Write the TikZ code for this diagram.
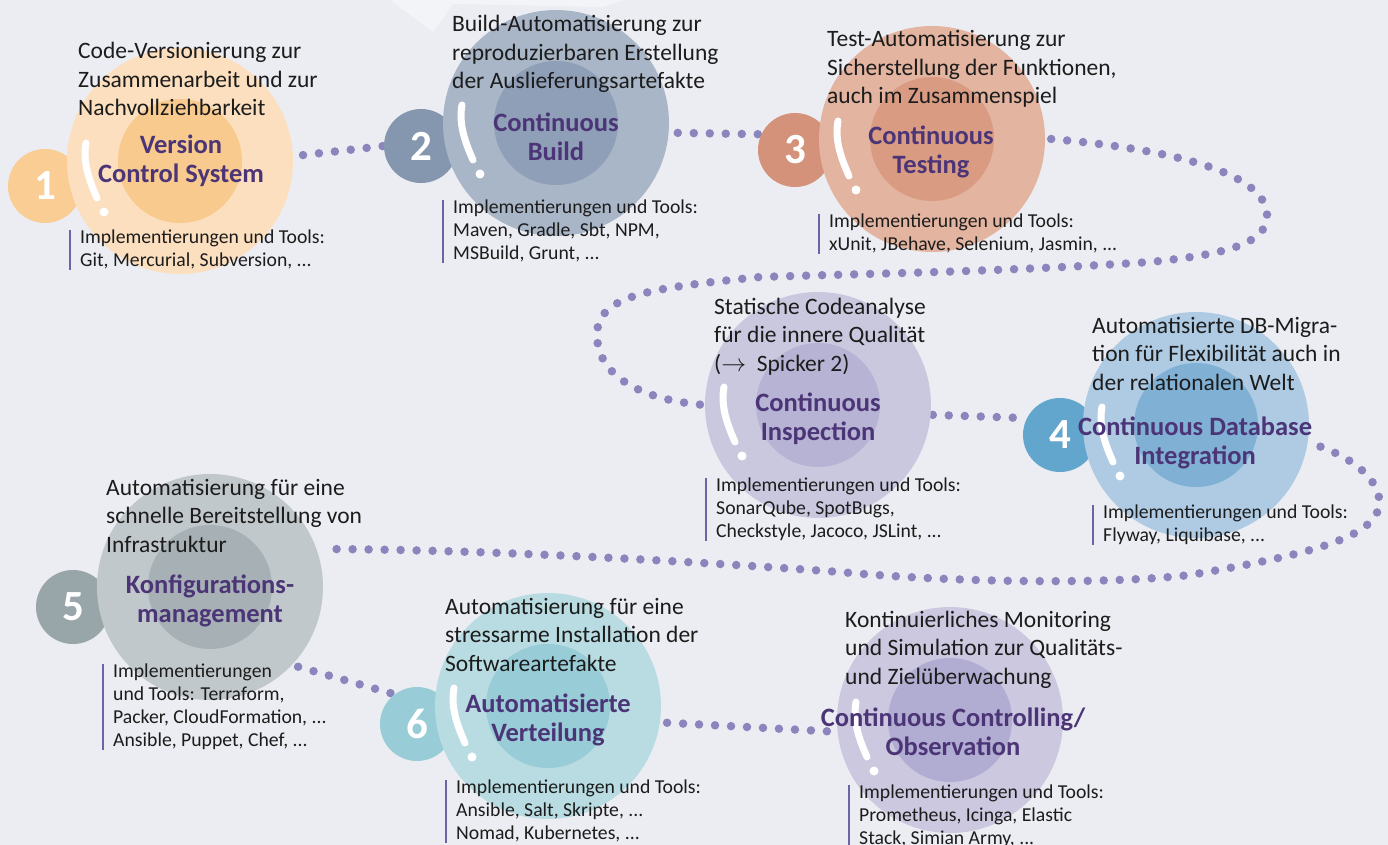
\documentclass[tikz,border=0pt]{standalone}
\usepackage{fontspec}
\setmainfont{Carlito}
\usetikzlibrary{calc}
\pgfdeclarelayer{back}
\pgfdeclarelayer{trail}
\pgfsetlayers{back,trail,main}

\definecolor{bgc}{HTML}{ECEDF2}
\definecolor{txtc}{HTML}{1C1C1C}
\definecolor{ttlc}{HTML}{4B3577}
\definecolor{dotc}{HTML}{8A85BD}
\definecolor{barc}{HTML}{6A66A6}
\definecolor{u1c}{HTML}{FBDFBE}\definecolor{i1c}{HTML}{F8CA8E}\definecolor{n1c}{HTML}{F9CD94}
\definecolor{u2c}{HTML}{A9B6C8}\definecolor{i2c}{HTML}{8F9FB7}\definecolor{n2c}{HTML}{8596AF}
\definecolor{u3c}{HTML}{E3B4A0}\definecolor{i3c}{HTML}{D99C83}\definecolor{n3c}{HTML}{D4927A}
\definecolor{ucic}{HTML}{CAC8DF}\definecolor{icic}{HTML}{B7B3D4}
\definecolor{u4c}{HTML}{AECBE3}\definecolor{i4c}{HTML}{80B1D5}\definecolor{n4c}{HTML}{62A5CD}
\definecolor{u5c}{HTML}{C1C8CB}\definecolor{i5c}{HTML}{A7B1B5}\definecolor{n5c}{HTML}{98A5A9}
\definecolor{u6c}{HTML}{B8DCE2}\definecolor{i6c}{HTML}{98CCD7}\definecolor{n6c}{HTML}{98CDD7}
\definecolor{u7c}{HTML}{CBC8DF}\definecolor{i7c}{HTML}{B1ACD2}

\tikzset{
  bigc/.style={circle, minimum size=226pt, inner sep=0pt},
  innc/.style={circle, minimum size=124pt, inner sep=0pt},
  numc/.style={circle, minimum size=74pt, inner sep=0pt, text=white,
    font=\fontsize{43}{43}\selectfont\bfseries},
  ttl/.style={align=center, text=ttlc, inner sep=0pt,
    font=\fontsize{26.5}{29}\selectfont\bfseries},
  desc/.style={anchor=base west, align=left, inner sep=0pt, text=txtc,
    font=\fontsize{23.5}{28.5}\selectfont},
  bar/.style={draw=barc, line width=2.6pt},
  tools/.style={anchor=north west, align=left, inner xsep=10pt, inner ysep=0pt,
    text=txtc, font=\fontsize{19.7}{23}\selectfont,
    append after command={(\tikzlastnode.north west) edge[bar] (\tikzlastnode.south west)}},
  trail/.style={draw=dotc, line width=8.5pt, line cap=round, dash pattern=on 0pt off 16pt},
  swoosh/.pic={
    \draw[white, line width=7pt, line cap=round] (-94,-18) .. controls (-97.6,0.8) and (-90.8,19.5) .. (-83,37);
    \fill[white] (-76,51) circle (4.5pt);
  }
}

\begin{document}
\begin{tikzpicture}[x=1pt,y=-1pt]
  \useasboundingbox (0,0) rectangle (1388,845);
  \begin{pgfonlayer}{back}
    \fill[bgc] (0,0) rectangle (1388,845);
    \fill[white, opacity=0.4] (390,0) -- (433,32) -- (453,4) -- (602,7) -- (625,0) -- cycle;
  \end{pgfonlayer}

  % 1
  \node[numc, fill=n1c] (n1) at (45,186) {1};
  \node[bigc, fill=u1c] (u1) at (180,161) {};
  \node[innc, fill=i1c] (i1) at (u1) {};
  \pic at (u1) {swoosh};
  \node[ttl] (t1) at (181,161) {Version\\Control System};
  \node[desc] (d1) at (78,116) {Code-Versionierung zur\\Zusammenarbeit und zur\\Nachvollziehbarkeit};
  \node[tools] (k1) at (70,230) {Implementierungen und Tools:\\Git, Mercurial, Subversion, ...};

  % 2
  \node[numc, fill=n2c] (n2) at (421,146) {2};
  \node[bigc, fill=u2c] (u2) at (556,123) {};
  \node[innc, fill=i2c] (i2) at (u2) {};
  \pic at (u2) {swoosh};
  \node[ttl] (t2) at (556,137) {Continuous\\Build};
  \node[desc] (d2) at (452,89) {Build-Automatisierung zur\\reproduzierbaren Erstellung\\der Auslieferungsartefakte};
  \node[tools] (k2) at (443,200) {Implementierungen und Tools:\\Maven, Gradle, Sbt, NPM,\\MSBuild, Grunt, ...};

  % 3
  \node[numc, fill=n3c] (n3) at (795,150) {3};
  \node[bigc, fill=u3c] (u3) at (932,139) {};
  \node[innc, fill=i3c] (i3) at (u3) {};
  \pic at (u3) {swoosh};
  \node[ttl] (t3) at (931,152) {Continuous\\Testing};
  \node[desc] (d3) at (827,104) {Test-Automatisierung zur\\Sicherstellung der Funktionen,\\auch im Zusammenspiel};
  \node[tools] (k3) at (819,214) {Implementierungen und Tools:\\xUnit, JBehave, Selenium, Jasmin, ...};

  % inspection
  \node[bigc, fill=ucic] (uci) at (818,405) {};
  \node[innc, fill=icic] (ici) at (uci) {};
  \pic at (uci) {swoosh};
  \node[ttl] (tci) at (818,419) {Continuous\\Inspection};
  \node[desc] (dci) at (714,371) {Statische Codeanalyse\\für die innere Qualität\\($\rightarrow$~~Spicker 2)};
  \node[tools] (kci) at (706,478) {Implementierungen und Tools:\\SonarQube, SpotBugs,\\Checkstyle, Jacoco, JSLint, ...};

  % 4
  \node[numc, fill=n4c] (n4) at (1060,435) {4};
  \node[bigc, fill=u4c] (u4) at (1196,425) {};
  \node[innc, fill=i4c] (i4) at (u4) {};
  \pic at (u4) {swoosh};
  \node[ttl] (t4) at (1195,443) {Continuous Database\\Integration};
  \node[desc] (d4) at (1092,390) {Automatisierte DB-Migra-\\tion für Flexibilität auch in\\der relationalen Welt};
  \node[tools] (k4) at (1093,505) {Implementierungen und Tools:\\Flyway, Liquibase, ...};

  % 5
  \node[numc, fill=n5c] (n5) at (73,607) {5};
  \node[bigc, fill=u5c] (u5) at (210,587) {};
  \node[innc, fill=i5c] (i5) at (u5) {};
  \node[ttl] (t5) at (210,601) {Konfigurations-\\management};
  \node[desc] (d5) at (106,552) {Automatisierung für eine\\schnelle Bereitstellung von\\Infrastruktur};
  \node[tools] (k5) at (103,664) {Implementierungen\\und Tools: Terraform,\\Packer, CloudFormation, ...\\Ansible, Puppet, Chef, ...};

  % 6
  \node[numc, fill=n6c] (n6) at (417,724) {6};
  \node[bigc, fill=u6c] (u6) at (548,706) {};
  \node[innc, fill=i6c] (i6) at (u6) {};
  \pic at (u6) {swoosh};
  \node[ttl] (t6) at (548,720) {Automatisierte\\Verteilung};
  \node[desc] (d6) at (445,671) {Automatisierung für eine\\stressarme Installation der\\Softwareartefakte};
  \node[tools] (k6) at (446,780) {Implementierungen und Tools:\\Ansible, Salt, Skripte, ...\\Nomad, Kubernetes, ...};

  % controlling
  \node[bigc, fill=u7c] (u7) at (950,720) {};
  \node[innc, fill=i7c] (i7) at (u7) {};
  \pic at (u7) {swoosh};
  \node[ttl] (t7) at (953,732) {Continuous Controlling/\\Observation};
  \node[desc] (d7) at (845,684) {Kontinuierliches Monitoring\\und Simulation zur Qualitäts-\\und Zielüberwachung};
  \node[tools] (k7) at (849,785) {Implementierungen und Tools:\\Prometheus, Icinga, Elastic\\Stack, Simian Army, ...};

  % dotted trail
  \begin{pgfonlayer}{trail}
    \draw[trail] ($(u1.3)+(10,0)$) -- (n2.west);
    \draw[trail] ($(u2.-5)+(9,0)$) -- (n3.155);
    \draw[trail] ($(u3.east)+(6,0)$) .. controls (1180,150) and (1270,175) .. (1267,218)
      .. controls (1265,245) and (1220,255) .. (1150,262)
      .. controls (1000,272) and (850,274) .. (760,277)
      .. controls (650,288) and (597,295) .. (597,335)
      .. controls (597,375) and (640,400) .. (uci.west);
    \draw[trail] ($(uci.-5)+(2,0)$) -- (n4.153);
    \draw[trail] ($(u4.-10)+(13,2)$) .. controls (1365,463) and (1385,490) .. (1378,510)
      .. controls (1368,540) and (1300,556) .. (1190,575)
      .. controls (1100,585) and (950,582) .. (840,572)
      .. controls (700,562) and (500,550) .. ($(u5.18)+(10,-3)$);
    \draw[trail] ($(u5.-42)+(4,4)$) -- (n6.127);
    \draw[trail] ($(u6.-8)+(7,1)$) -- (u7.186);
  \end{pgfonlayer}
\end{tikzpicture}
\end{document}
